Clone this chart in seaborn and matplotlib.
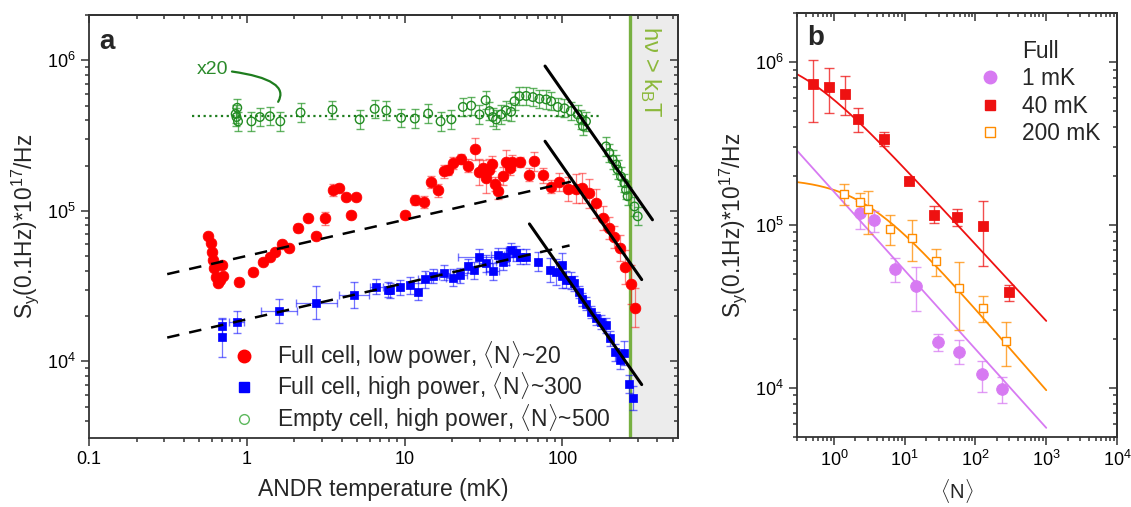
import numpy as np
import pandas as pd
import matplotlib
matplotlib.use("Agg")
import matplotlib.pyplot as plt
import seaborn as sns
from matplotlib.lines import Line2D
from matplotlib.ticker import LogLocator, NullFormatter, FixedLocator, FixedFormatter

# ---------------- Panel a data ----------------
green_T = [0.85, 0.86, 0.88, 0.87, 1.07, 1.21, 1.40, 1.63, 2.19, 3.49, 5.19, 6.46, 7.66,
           9.5, 11.6, 14.1, 16.9, 19.8, 23.4, 26.4, 29.8, 32.6, 34.5, 36.2, 38, 40.9, 44,
           47.3, 49.7, 53.4, 58.9, 64.9, 71.5, 78.8, 84.8, 93.4, 103, 113, 125, 131, 141,
           135, 189, 198, 208, 219, 224, 235, 247, 253, 259, 286, 300]
green_S = [4.4e5, 4.2e5, 3.93e5, 4.84e5, 3.93e5, 4.2e5, 4.25e5, 3.93e5, 4.5e5, 4.7e5,
           4.05e5, 4.76e5, 4.65e5, 4.15e5, 4.1e5, 4.43e5, 3.93e5, 4.05e5, 4.9e5, 5.0e5,
           4.37e5, 5.43e5, 4.6e5, 4.2e5, 4.05e5, 4.37e5, 4.65e5, 4.55e5, 5.35e5, 5.78e5,
           5.8e5, 5.7e5, 5.55e5, 5.5e5, 5.35e5, 4.9e5, 4.8e5, 4.6e5, 4.37e5, 4.05e5,
           3.93e5, 3.65e5, 2.68e5, 2.43e5, 2.19e5, 2.03e5, 1.88e5, 1.69e5, 1.53e5,
           1.38e5, 1.25e5, 1.07e5, 9.2e4]
green_err = 0.15

red_T = [0.569, 0.589, 0.598, 0.607, 0.618, 0.637, 0.658, 0.692, 0.708, 0.675, 0.889,
         1.10, 1.27, 1.40, 1.50, 1.66, 1.85, 2.11, 2.44, 2.76, 3.12, 3.52, 3.84, 4.23,
         4.6, 4.95, 10, 11.7, 13.2, 14.8, 16.3, 17.7, 18.8, 20.4, 22.9, 25.2, 27.8, 29.5,
         31.3, 32.9, 34.5, 35.7, 37.2, 39, 41.9, 43.6, 46.2, 48.1, 53.5, 61.3, 66.5,
         75.2, 84.8, 95.7, 108, 122, 134, 148, 163, 180, 196, 213, 230, 251, 272, 290]
red_S = [6.8e4, 6.1e4, 5.35e4, 4.71e4, 4.15e4, 3.65e4, 3.3e4, 4.37e4, 3.69e4, 3.47e4,
         3.38e4, 3.94e4, 4.59e4, 4.95e4, 5.35e4, 6.03e4, 5.64e4, 7.67e4, 9.0e4, 6.85e4,
         8.9e4, 1.38e5, 1.42e5, 1.24e5, 9.4e4, 1.24e5, 9.4e4, 1.18e5, 1.15e5, 1.55e5,
         1.37e5, 1.83e5, 1.86e5, 2.08e5, 2.21e5, 2.0e5, 2.58e5, 1.82e5, 1.94e5, 1.65e5,
         1.88e5, 2.06e5, 1.51e5, 1.35e5, 1.71e5, 2.1e5, 1.93e5, 2.1e5, 2.1e5, 1.74e5,
         2.13e5, 1.72e5, 1.45e5, 1.55e5, 1.4e5, 1.4e5, 1.42e5, 1.31e5, 1.12e5, 9.0e4,
         7.67e4, 6.68e4, 5.69e4, 4.25e4, 3.26e4, 2.27e4]
red_err = [0.03, 0.03, 0.03, 0.03, 0.03, 0.03, 0.03, 0.03, 0.03, 0.03, 0.06,
           0.05, 0.04, 0.04, 0.04, 0.05, 0.04, 0.06, 0.05, 0.04, 0.10, 0.10, 0.04, 0.04,
           0.04, 0.04, 0.06, 0.08, 0.10, 0.10, 0.10, 0.10, 0.08, 0.10, 0.08, 0.10, 0.18, 0.22,
           0.12, 0.25, 0.18, 0.12, 0.12, 0.12, 0.15, 0.20, 0.12, 0.12, 0.08, 0.10, 0.15,
           0.12, 0.10, 0.15, 0.20, 0.25, 0.25, 0.25, 0.25, 0.20, 0.18, 0.18, 0.22, 0.30,
           0.35, 0.35]

blue_T = [0.70, 0.70, 0.861, 1.6, 2.76, 4.77, 6.62, 7.84, 8.1, 9.3, 10.8, 12.1, 13.4,
          15.1, 17.7, 20.2, 22.6, 25.2, 27.5, 29.5, 32.6, 36.2, 39, 41.9, 44, 47.3, 50.9,
          54, 58.9, 69.8, 84, 91.2, 99.6, 99.6, 105, 113, 119, 127, 134, 142, 152, 163,
          176, 189, 201, 216, 230, 247, 263, 281]
blue_S = [1.71e4, 1.45e4, 1.83e4, 2.16e4, 2.46e4, 2.75e4, 3.13e4, 3.0e4, 2.97e4, 3.1e4,
          3.21e4, 2.9e4, 3.52e4, 3.69e4, 3.88e4, 3.59e4, 3.74e4, 4.3e4, 4.04e4, 4.91e4,
          4.48e4, 3.98e4, 5.09e4, 4.6e4, 4.96e4, 5.5e4, 5.22e4, 4.96e4, 4.96e4, 4.6e4,
          4.04e4, 3.94e4, 4.37e4, 3.69e4, 3.5e4, 3.47e4, 3.3e4, 2.9e4, 2.58e4, 2.42e4,
          2.13e4, 1.93e4, 1.83e4, 1.74e4, 1.42e4, 1.15e4, 1.02e4, 1.14e4, 7.1e3, 5.7e3]
blue_yerr = [0.12, 0.35, 0.18, 0.2, 0.28, 0.22, 0.12, 0.12, 0.12, 0.12, 0.14, 0.14, 0.14,
             0.12, 0.12, 0.14, 0.12, 0.12, 0.14, 0.14, 0.14, 0.14, 0.12, 0.14, 0.14, 0.12,
             0.12, 0.12, 0.12, 0.16, 0.2, 0.22, 0.2, 0.2, 0.14, 0.14, 0.12, 0.1, 0.1, 0.1,
             0.1, 0.1, 0.12, 0.12, 0.12, 0.14, 0.14, 0.2, 0.15, 0.2]
blue_xerr = [0, 0, 0.12, 0.3, 0.35, 0.25, 0.1, 0, 0, 0, 0, 0, 0.1, 0.1, 0.1, 0.1, 0.1,
             0, 0, 0.35, 0.1, 0.1, 0.1, 0.1, 0.1, 0.08, 0, 0, 0, 0, 0, 0, 0, 0, 0, 0, 0,
             0, 0, 0, 0, 0, 0, 0, 0, 0, 0, 0, 0, 0]

# guide lines: (T_start, T_end, S_start, slope)
solid_lines = [(77.6, 372, 9.16e5, -1.5), (77.6, 318, 2.9e5, -1.5), (61.8, 318, 8.19e4, -1.5)]
dashed_lines = [(0.313, 113, 3.8e4, 0.24), (0.313, 111, 1.44e4, 0.24)]
dotted_level = 4.3e5
dotted_range = (0.45, 179)
hv_T = 270

legend_a = ["Full cell, low power, $\\langle$N$\\rangle$~20",
            "Full cell, high power, $\\langle$N$\\rangle$~300",
            "Empty cell, high power, $\\langle$N$\\rangle$~500"]

# ---------------- Panel b data ----------------
b_vio_N = [2.34, 3.66, 7.33, 14.6, 29.5, 59.3, 122, 239]
b_vio_S = [1.18e5, 1.07e5, 5.35e4, 4.25e4, 1.92e4, 1.67e4, 1.21e4, 9.9e3]
b_vio_hi = [1.4e5, 1.22e5, 6.25e4, 5.5e4, 2.14e4, 1.97e4, 1.47e4, 1.17e4]
b_vio_lo = [9.5e4, 9.1e4, 4.49e4, 2.97e4, 1.69e4, 1.40e4, 9.5e3, 8.1e3]

b_red_N = [0.50, 0.84, 1.43, 2.19, 5.17, 11.6, 25.6, 55.6, 126, 297]
b_red_S = [7.3e5, 7.06e5, 6.4e5, 4.5e5, 3.36e5, 1.86e5, 1.15e5, 1.12e5, 9.9e4, 3.87e4]
b_red_hi = [1.03e6, 9.2e5, 8.2e5, 5.24e5, 3.7e5, 1.9e5, 1.3e5, 1.26e5, 1.41e5, 4.3e4]
b_red_lo = [4.3e5, 4.9e5, 4.7e5, 3.7e5, 3.05e5, 1.82e5, 1.03e5, 9.8e4, 5.6e4, 3.4e4]

b_ora_N = [1.39, 2.34, 3.03, 6.22, 12.6, 27.4, 58.6, 126, 267]
b_ora_S = [1.56e5, 1.38e5, 1.25e5, 9.5e4, 8.35e4, 5.98e4, 4.1e4, 3.11e4, 1.95e4]
b_ora_hi = [1.78e5, 1.58e5, 1.62e5, 1.15e5, 1.07e5, 7.1e4, 5.93e4, 3.69e4, 2.55e4]
b_ora_lo = [1.33e5, 1.18e5, 8.8e4, 7.5e4, 6.0e4, 4.86e4, 2.27e4, 2.53e4, 1.36e4]

# fit parameters S = A * (1 + N/N0)^-p   (violet: pure power law A*N^-p)
fit_red = (1.167e6, 0.3, 0.47)
fit_ora = (1.94e5, 2.5, 0.5)
fit_vio = (1.6e5, 0.483)
fit_range = (0.3, 1000)

legend_b = ["Full", "1 mK", "40 mK", "200 mK"]

# ---------------- style ----------------
sns.set_theme(style="ticks")
plt.rcParams["font.family"] = ["Liberation Sans", "DejaVu Sans"]
plt.rcParams["mathtext.fontset"] = "custom"
plt.rcParams["mathtext.rm"] = "Liberation Sans"
plt.rcParams["mathtext.it"] = "Liberation Sans:italic"
plt.rcParams["mathtext.bf"] = "Liberation Sans:bold"

RED = "#ff0000"
BLUE = "#0000ff"
GREEN = "#228b22"
VIO = "#d77af2"
ORA = "#ff8c00"
BRED = "#ee1111"
SPINE = "#333333"
TICK_FS = 13
LABEL_FS = 16.5
YLABEL_FS = 16.3

fig = plt.figure(figsize=(11.31, 5.07), dpi=100)
axa = fig.add_axes([89 / 1131, 69 / 507, 589 / 1131, 423 / 507])
axb = fig.add_axes([797 / 1131, 70 / 507, 320 / 1131, 424 / 507])


def style_axes(ax):
    for s in ax.spines.values():
        s.set_color(SPINE)
        s.set_linewidth(1.3)
    ax.tick_params(which="both", direction="out", colors=SPINE, labelcolor="black",
                   labelsize=TICK_FS, width=1.1)
    ax.tick_params(which="major", length=6)
    ax.tick_params(which="minor", length=3)
    top = ax.secondary_xaxis("top")
    right = ax.secondary_yaxis("right")
    for sec, axis in ((top, top.xaxis), (right, right.yaxis)):
        sec.tick_params(which="both", direction="in", colors=SPINE, width=1.1)
        sec.tick_params(which="major", length=6)
        sec.tick_params(which="minor", length=3)
        axis.set_major_formatter(NullFormatter())
        axis.set_minor_formatter(NullFormatter())
        for s in sec.spines.values():
            s.set_color(SPINE)
            s.set_linewidth(1.3)
    return top, right


def asym(S, f):
    S = np.asarray(S, float)
    f = np.asarray(f, float)
    return [S - S / (1 + f), S * f]


# ---------------- Panel a ----------------
axa.set_xscale("log")
axa.set_yscale("log")
axa.set_xlim(0.1, 540)
axa.set_ylim(3.1e3, 2.0e6)

axa.axvspan(hv_T, 540, color="#ececec", zorder=0, lw=0)
axa.axvline(hv_T, color="#77b041", lw=2.4, zorder=1)

dfg = pd.DataFrame({"T": green_T, "S": green_S})
dfr = pd.DataFrame({"T": red_T, "S": red_S})
dfb = pd.DataFrame({"T": blue_T, "S": blue_S})

axa.errorbar(dfg["T"], dfg["S"], yerr=asym(dfg["S"], green_err), fmt="none",
             ecolor="#2e9a2e", alpha=0.75, elinewidth=0.9, capsize=3, zorder=2)
axa.errorbar(dfr["T"], dfr["S"], yerr=asym(dfr["S"], red_err), fmt="none",
             ecolor=RED, alpha=0.5, elinewidth=0.9, capsize=3, zorder=2)
axa.errorbar(dfb["T"], dfb["S"], yerr=asym(dfb["S"], blue_yerr),
             xerr=asym(dfb["T"], blue_xerr), fmt="none",
             ecolor=BLUE, alpha=0.55, elinewidth=0.9, capsize=3, zorder=2)

sns.scatterplot(data=dfg, x="T", y="S", ax=axa, marker="o", s=38, facecolor="none",
                edgecolor=GREEN, linewidth=1.0, legend=False, zorder=3)
sns.scatterplot(data=dfr, x="T", y="S", ax=axa, marker="o", s=60, color=RED,
                edgecolor=RED, linewidth=0.5, legend=False, zorder=4)
sns.scatterplot(data=dfb, x="T", y="S", ax=axa, marker="s", s=40, color=BLUE,
                edgecolor=BLUE, linewidth=0.5, legend=False, zorder=4)

for T0, T1, S0, k in solid_lines:
    tt = np.array([T0, T1])
    sns.lineplot(x=tt, y=S0 * (tt / T0) ** k, ax=axa, color="black", lw=2.2, zorder=5)
for T0, T1, S0, k in dashed_lines:
    tt = np.array([T0, T1])
    axa.plot(tt, S0 * (tt / T0) ** k, color="black", lw=1.8, ls=(0, (5, 4)), zorder=5)
axa.plot(dotted_range, [dotted_level, dotted_level], color="#1e7d1e", lw=1.6,
         ls=(0, (1, 1.6)), zorder=2)

axa.annotate("x20", xy=(1.58, 5.3e5), xytext=(0.61, 8.7e5), color="#2a8a2a",
             fontsize=14, ha="center", va="center",
             arrowprops=dict(arrowstyle="-", color="#1e7d1e", lw=1.6,
                             shrinkA=0, shrinkB=0,
                             connectionstyle="angle3,angleA=-5,angleB=60"))
axa.text(362, 8.4e5, "h\u03bd > k$_\\mathregular{B}$T", rotation=-90, color="#8bb83a",
         fontsize=17, ha="center", va="center")
axa.text(0.116, 1.32e6, "a", fontsize=20, fontweight="bold", ha="left", va="center")

axa.xaxis.set_major_locator(FixedLocator([0.1, 1, 10, 100]))
axa.xaxis.set_major_formatter(FixedFormatter(["0.1", "1", "10", "100"]))
axa.xaxis.set_minor_locator(LogLocator(base=10, subs=np.arange(2, 10), numticks=20))
axa.xaxis.set_minor_formatter(NullFormatter())
axa.set_xlabel("ANDR temperature (mK)", fontsize=LABEL_FS, labelpad=7)
axa.set_ylabel("S$_\\mathregular{y}$(0.1Hz)*10$^{\\mathregular{17}}$/Hz", fontsize=YLABEL_FS,
               labelpad=4)
style_axes(axa)

ha = [Line2D([], [], ls="", marker="o", color=RED, ms=9),
      Line2D([], [], ls="", marker="s", color=BLUE, ms=7),
      Line2D([], [], ls="", marker="o", mfc="none", mec="#5cb85c", ms=7, mew=1.0)]
axa.legend(ha, legend_a, loc="lower left", bbox_to_anchor=(0.244, 0.010), frameon=False,
           fontsize=LABEL_FS, handlelength=1.0, handletextpad=0.94, labelspacing=0.02,
           borderpad=0, borderaxespad=0)

# ---------------- Panel b ----------------
axb.set_xscale("log")
axb.set_yscale("log")
axb.set_xlim(0.3, 1e4)
axb.set_ylim(5e3, 2.0e6)

Nf = np.logspace(np.log10(fit_range[0]), np.log10(fit_range[1]), 200)
A, N0, p = fit_red
sns.lineplot(x=Nf, y=A * (1 + Nf / N0) ** (-p), ax=axb, color=BRED, lw=1.3, zorder=2)
A, N0, p = fit_ora
sns.lineplot(x=Nf, y=A * (1 + Nf / N0) ** (-p), ax=axb, color=ORA, lw=1.3, zorder=2)
A, p = fit_vio
sns.lineplot(x=Nf, y=A * Nf ** (-p), ax=axb, color=VIO, lw=1.3, zorder=2)

for N, S, hi, lo, c in ((b_vio_N, b_vio_S, b_vio_hi, b_vio_lo, VIO),
                        (b_red_N, b_red_S, b_red_hi, b_red_lo, BRED),
                        (b_ora_N, b_ora_S, b_ora_hi, b_ora_lo, ORA)):
    S = np.array(S)
    axb.errorbar(N, S, yerr=[S - np.array(lo), np.array(hi) - S], fmt="none", ecolor=c,
                 alpha=0.75, elinewidth=1.0, capsize=3.5, zorder=3)

sns.scatterplot(x=b_vio_N, y=b_vio_S, ax=axb, marker="o", s=70, color=VIO,
                edgecolor=VIO, legend=False, zorder=4)
sns.scatterplot(x=b_red_N, y=b_red_S, ax=axb, marker="s", s=50, color=BRED,
                edgecolor=BRED, legend=False, zorder=4)
sns.scatterplot(x=b_ora_N, y=b_ora_S, ax=axb, marker="s", s=40, facecolor="white",
                edgecolor=ORA, linewidth=1.0, legend=False, zorder=4)

axb.xaxis.set_major_locator(LogLocator(base=10, numticks=10))
axb.xaxis.set_minor_locator(LogLocator(base=10, subs=np.arange(2, 10), numticks=20))
axb.xaxis.set_minor_formatter(NullFormatter())
axb.set_xlabel("$\\langle$N$\\rangle$", fontsize=14.5, labelpad=5)
axb.set_ylabel("S$_\\mathregular{y}$(0.1Hz)*10$^{\\mathregular{17}}$/Hz", fontsize=YLABEL_FS,
               labelpad=4)
axb.text(0.414, 1.4e6, "b", fontsize=20, fontweight="bold", ha="left", va="center")
style_axes(axb)

hb = [Line2D([], [], ls="", marker=""),
      Line2D([], [], ls="", marker="o", color=VIO, ms=9),
      Line2D([], [], ls="", marker="s", color=BRED, ms=7),
      Line2D([], [], ls="", marker="s", mfc="white", mec=ORA, ms=7, mew=1.0)]
axb.legend(hb, legend_b, loc="upper left", bbox_to_anchor=(0.5675, 0.936), frameon=False,
           fontsize=16.4, handlelength=1.0, handletextpad=0.9, labelspacing=0.19,
           borderpad=0, borderaxespad=0)

fig.savefig("out.png", dpi=100)
